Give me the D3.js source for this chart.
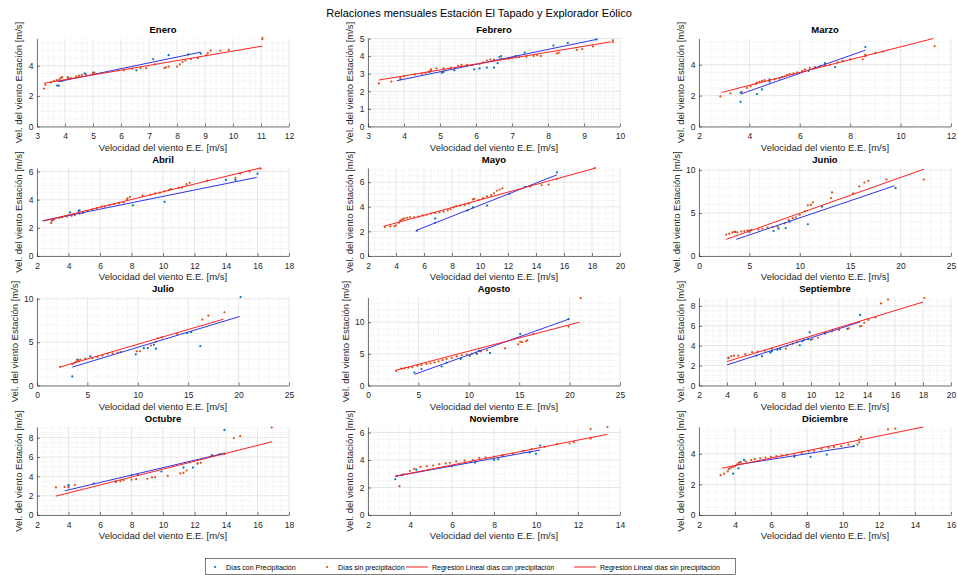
<!DOCTYPE html>
<html><head><meta charset="utf-8">
<script src="https://cdn.jsdelivr.net/npm/d3@7"></script>
<style>body{margin:0;background:#fff}svg{display:block;font-family:"Liberation Sans",Arial,Helvetica,sans-serif}</style>
</head><body><svg id="c" width="958" height="575"></svg>
<script>
const chartTitle = "Relaciones mensuales Estación El Tapado y Explorador Eólico";
const months = ["Enero","Febrero","Marzo","Abril","Mayo","Junio","Julio","Agosto","Septiembre","Octubre","Noviembre","Diciembre"];
const xLabel = "Velocidad del viento E.E. [m/s]";
const yLabel = "Vel. del viento Estación [m/s]";
const legendLabels = ["Días con Precipitación","Días sin precipitación","Regresión Lineal días con precipitación","Regresión Lineal días sin precipitación"];

const xTicks = [
  [3,4,5,6,7,8,9,10,11,12],[3,4,5,6,7,8,9,10],[2,4,6,8,10,12],
  [2,4,6,8,10,12,14,16,18],[2,4,6,8,10,12,14,16,18,20],[0,5,10,15,20,25],
  [0,5,10,15,20,25],[0,5,10,15,20,25],[2,4,6,8,10,12,14,16,18,20],
  [2,4,6,8,10,12,14,16,18],[2,4,6,8,10,12,14],[2,4,6,8,10,12,14,16]
];
const yTicks = [
  [0,2,4],[0,1,2,3,4,5],[0,2,4],[0,2,4,6],[0,2,4,6],[0,5,10],
  [0,5,10],[0,5,10],[0,2,4,6,8],[0,2,4,6,8],[0,2,4,6],[0,2,4]
];
const yMax = [5.8,5,5.7,6.25,7.15,10.25,10.15,13.9,8.85,9.1,6.4,5.75];

// Días con precipitación (blue points)
const conPrecip = [
  [[3.72,2.7],[3.78,2.7],[3.9,3.0],[4.1,3.2],[4.7,3.5],[5.0,3.55],[6.55,3.7],[7.15,4.45],[7.7,4.7],[8.4,4.75],[8.85,4.8]],
  [[3.9,2.7],[4.7,3.1],[5.05,3.05],[5.1,3.1],[5.4,3.2],[5.95,3.25],[6.1,3.3],[6.3,3.35],[6.5,3.35],[6.6,3.6],[6.65,3.95],[6.7,4.0],[7.1,4.0],[7.35,4.2],[8.15,4.6],[8.55,4.75],[9.35,4.95]],
  [[3.65,1.6],[3.65,2.2],[4.3,2.1],[4.5,2.4],[4.8,2.9],[4.8,3.05],[5.3,3.2],[6.35,3.6],[7.0,4.1],[7.4,3.85],[8.6,5.15]],
  [[3.0,2.55],[4.1,3.1],[4.65,3.2],[4.7,3.25],[8.1,3.6],[10.1,3.85],[14.0,5.4],[14.6,5.4],[16.0,5.85]],
  [[5.5,2.05],[6.8,3.05],[6.8,2.7],[9.1,3.7],[9.5,3.95],[10.5,4.1],[12.1,5.05],[13.2,5.6],[15.5,6.8]],
  [[3.6,2.8],[5.0,2.8],[7.4,2.9],[7.9,3.2],[8.6,3.25],[9.0,4.0],[10.8,3.7],[12.2,5.75],[19.5,7.9]],
  [[3.5,1.05],[4.0,3.0],[4.1,2.85],[5.3,3.35],[9.8,3.6],[10.6,4.3],[11.0,4.3],[11.6,4.7],[11.8,4.25],[14.9,6.05],[15.3,6.15],[16.2,4.55],[20.2,10.2]],
  [[4.6,2.05],[5.3,2.6],[7.3,3.0],[7.8,3.6],[9.2,4.2],[10.1,4.7],[10.8,5.0],[11.0,5.5],[12.1,5.15],[15.1,8.15],[19.9,10.5]],
  [[4.1,2.75],[6.1,3.0],[6.5,2.95],[7.1,3.3],[7.2,3.45],[7.6,3.6],[7.8,3.65],[8.3,4.0],[9.2,4.05],[9.4,4.45],[9.8,4.65],[9.9,5.35],[10.0,4.6],[11.0,5.3],[12.6,5.7],[13.5,7.1]],
  [[4.0,3.0],[4.0,3.1],[5.6,3.25],[7.0,3.45],[8.0,4.1],[8.4,4.15],[9.9,4.5],[11.3,4.9],[11.9,4.9],[12.2,5.35],[13.1,6.2],[13.6,6.3],[13.9,6.35],[13.9,8.8]],
  [[3.3,2.6],[3.4,2.85],[3.6,2.9],[4.3,3.3],[6.0,3.55],[6.9,3.85],[7.1,3.8],[8.0,4.0],[8.2,4.05],[8.4,4.3],[9.7,4.55],[10.0,4.45],[10.2,5.05]],
  [[3.9,2.7],[4.2,3.05],[4.3,3.45],[4.5,3.6],[7.3,3.8],[8.2,3.8],[9.1,3.95],[10.6,4.5]]
];

// Días sin precipitación (orange points)
const sinPrecip = [
  [[3.25,2.5],[3.3,2.75],[3.5,2.9],[3.6,3.0],[3.7,3.05],[3.8,3.1],[3.85,3.2],[3.9,3.25],[4.1,3.25],[4.2,3.2],[4.4,3.3],[4.5,3.35],[4.6,3.4],[4.75,3.45],[5.0,3.5],[5.05,3.55],[5.9,3.7],[6.1,3.7],[6.4,3.8],[6.7,3.85],[6.9,3.85],[7.2,4.1],[7.55,3.85],[7.6,3.9],[7.7,3.95],[8.0,3.95],[8.1,4.1],[8.2,4.25],[8.3,4.35],[8.5,4.45],[8.75,4.5],[9.05,4.7],[9.1,4.85],[9.2,5.0],[9.55,5.0],[9.85,5.05],[11.05,5.75],[11.05,5.85]],
  [[3.3,2.45],[3.65,2.55],[3.9,2.75],[4.0,2.85],[4.3,2.95],[4.5,3.0],[4.6,3.05],[4.7,3.1],[4.75,3.2],[4.75,3.25],[4.9,3.3],[5.1,3.3],[5.3,3.35],[5.5,3.45],[5.6,3.5],[5.75,3.5],[5.9,3.5],[6.1,3.55],[6.2,3.65],[6.3,3.75],[6.4,3.8],[6.5,3.8],[6.7,3.85],[6.9,3.85],[7.0,3.9],[7.2,3.95],[7.4,3.95],[7.6,4.0],[7.7,4.05],[7.8,4.0],[8.25,4.15],[8.3,4.2],[8.8,4.35],[8.95,4.4],[9.25,4.55],[9.8,4.8],[9.8,4.9]],
  [[2.85,1.95],[3.25,2.15],[3.7,2.25],[3.9,2.5],[4.05,2.6],[4.25,2.75],[4.3,2.85],[4.4,2.9],[4.5,2.95],[4.6,3.0],[4.8,3.0],[5.0,3.05],[5.2,3.1],[5.4,3.25],[5.5,3.35],[5.6,3.4],[5.75,3.45],[5.9,3.5],[6.1,3.6],[6.2,3.7],[6.4,3.8],[6.6,3.85],[6.8,3.9],[7.0,3.95],[7.2,4.0],[7.5,4.15],[7.7,4.25],[8.0,4.35],[8.5,4.35],[8.6,4.55],[8.6,4.65],[9.0,4.75],[9.3,4.85],[11.35,5.2]],
  [[2.9,2.35],[2.95,2.5],[3.1,2.6],[3.4,2.7],[3.6,2.75],[3.9,2.8],[4.2,2.85],[4.4,2.9],[4.7,3.0],[4.9,3.05],[5.2,3.2],[5.5,3.3],[5.8,3.4],[6.1,3.5],[6.3,3.5],[6.6,3.6],[6.9,3.7],[7.2,3.75],[7.5,3.8],[7.7,4.0],[7.75,4.1],[7.9,4.2],[8.7,4.3],[9.2,4.35],[9.5,4.45],[9.8,4.5],[10.1,4.6],[10.4,4.7],[10.5,4.75],[11.0,4.85],[11.2,4.85],[11.5,5.1],[11.7,5.2],[12.8,5.35],[14.6,5.55],[14.9,5.85],[15.5,6.0],[16.2,6.2]],
  [[3.2,2.35],[3.6,2.4],[3.9,2.4],[4.0,2.5],[4.2,2.7],[4.3,2.85],[4.4,2.95],[4.5,3.0],[4.6,3.05],[4.8,3.1],[5.0,3.15],[5.3,3.15],[5.6,3.2],[5.9,3.3],[6.2,3.35],[6.5,3.45],[6.8,3.5],[7.1,3.55],[7.4,3.6],[7.7,3.7],[7.9,3.8],[8.1,3.95],[8.3,4.05],[8.6,4.1],[8.9,4.15],[9.2,4.25],[9.5,4.6],[9.6,4.65],[9.9,4.55],[10.2,4.7],[10.5,4.85],[10.8,4.95],[11.0,5.1],[11.2,5.3],[11.4,5.4],[11.6,5.5],[13.6,5.65],[14.4,5.75],[14.9,5.8],[15.5,6.25],[18.2,7.15]],
  [[2.7,2.5],[3.0,2.6],[3.3,2.75],[3.5,2.8],[3.8,2.75],[4.2,2.85],[4.5,2.9],[4.8,2.95],[5.0,3.0],[5.2,3.05],[5.9,3.1],[6.3,3.2],[6.8,3.3],[7.3,3.35],[7.8,3.4],[8.5,3.8],[8.9,4.2],[9.3,4.4],[9.6,4.5],[10.0,4.8],[10.5,5.2],[10.8,5.9],[11.1,5.95],[11.3,6.25],[13.1,6.75],[13.2,7.4],[15.3,7.3],[15.9,8.1],[16.4,8.55],[16.8,8.75],[18.6,8.9],[22.3,8.9]],
  [[2.3,2.15],[3.5,2.45],[3.7,2.6],[3.9,2.75],[4.1,2.9],[4.3,3.0],[4.8,3.1],[5.5,3.15],[6.0,3.3],[6.5,3.45],[7.0,3.65],[7.5,3.7],[8.0,3.8],[8.3,3.85],[9.9,3.95],[10.2,3.95],[11.3,4.6],[11.8,5.05],[12.0,5.45],[12.4,5.55],[13.9,5.95],[16.4,7.6],[17.0,8.05],[18.6,8.45]],
  [[2.8,2.3],[3.3,2.65],[3.6,2.7],[4.0,2.8],[4.4,2.9],[4.9,3.1],[5.3,3.25],[5.8,3.4],[6.2,3.5],[6.6,3.65],[7.0,3.8],[7.4,4.0],[7.8,4.2],[8.3,4.35],[8.8,4.6],[9.3,4.8],[9.8,4.9],[10.3,5.0],[10.7,5.2],[11.2,5.4],[11.8,5.55],[13.6,5.85],[14.9,6.5],[15.1,6.9],[15.3,6.85],[15.7,7.0],[15.8,7.15],[16.4,8.1],[19.9,9.3],[21.1,13.8]],
  [[4.1,2.8],[4.3,2.95],[4.5,3.0],[4.8,3.0],[5.3,3.15],[5.8,3.35],[6.2,3.4],[6.7,3.5],[7.2,3.7],[8.2,3.7],[8.7,4.2],[9.0,4.35],[9.5,4.6],[10.1,4.65],[10.5,4.8],[11.0,5.2],[11.5,5.45],[12.0,5.6],[12.7,5.75],[13.5,5.95],[13.6,6.0],[13.8,6.3],[14.1,6.6],[14.6,6.85],[15.0,8.25],[15.5,8.65],[18.1,8.8]],
  [[3.2,2.85],[3.75,2.9],[4.0,2.85],[4.4,3.1],[7.0,3.4],[7.3,3.5],[7.5,3.6],[8.0,3.65],[8.3,3.7],[9.0,3.75],[9.3,3.9],[9.5,3.9],[10.3,4.05],[11.1,4.3],[11.3,4.35],[11.5,4.6],[12.2,5.3],[12.4,5.4],[13.1,6.15],[13.9,6.3],[14.5,7.95],[14.9,8.15],[16.9,9.05]],
  [[3.5,2.1],[3.7,2.95],[4.0,3.2],[4.2,3.35],[4.5,3.5],[4.8,3.55],[5.1,3.6],[5.4,3.7],[5.7,3.75],[5.9,3.8],[6.2,3.9],[6.6,3.95],[7.0,4.0],[7.3,4.15],[7.6,4.2],[8.0,4.25],[8.4,4.35],[8.9,4.45],[9.4,4.65],[9.8,4.8],[10.4,4.95],[11.0,5.15],[11.6,5.2],[11.8,5.3],[12.6,5.55],[12.6,6.25],[13.4,6.4]],
  [[3.2,2.6],[3.4,2.7],[3.6,2.85],[3.65,3.0],[3.7,3.05],[3.8,3.1],[3.9,3.15],[4.0,3.2],[4.1,3.3],[4.2,3.4],[4.3,3.45],[4.6,3.5],[4.9,3.6],[5.1,3.65],[5.4,3.7],[5.7,3.75],[6.0,3.8],[6.3,3.85],[6.6,3.9],[6.9,3.95],[7.3,4.0],[7.7,4.05],[8.1,4.15],[8.4,4.2],[8.8,4.3],[9.2,4.4],[9.5,4.45],[9.9,4.5],[10.3,4.6],[10.8,4.6],[10.9,4.75],[10.9,4.95],[11.0,5.1],[12.5,5.6],[12.9,5.65]]
];

// Regression line end points [x0, y0, x1, y1]
const regCon = [
  [3.75,2.95,8.85,4.9],[3.8,2.6,9.35,4.95],[3.65,2.1,8.6,4.94],[2.35,2.5,15.95,5.58],
  [5.4,2.06,15.5,6.6],[3.7,1.94,19.4,8.18],[3.5,2.12,20.1,7.96],[4.62,1.77,19.9,10.47],
  [4.0,2.07,13.5,6.39],[3.76,2.5,13.85,6.37],[3.3,2.82,10.2,4.73],[4.1,3.28,10.57,4.48]
];
const regSin = [
  [3.25,2.85,11.05,5.3],[3.3,2.64,9.75,4.81],[2.9,2.21,11.3,5.7],[2.4,2.48,16.2,6.26],
  [3.12,2.41,18.24,7.14],[2.7,1.94,22.33,10.12],[2.25,2.12,18.5,7.65],[2.74,2.4,20.97,10.0],
  [4.0,2.41,18.0,8.39],[3.19,1.95,16.93,7.58],[3.3,2.82,13.4,5.87],[3.27,3.06,14.45,5.75]
];

const W = 958, H = 575;
const colLeft = [37, 368, 699], plotW = 252;
const rowTop = [38.5, 168, 297.5, 427], plotH = 88;
const C_BLUE = "#0072BD", C_ORANGE = "#D95319", C_BLINE = "#3333e6", C_RLINE = "#ff2020", C_AX = "#262626";

const svg = d3.select("#c");
svg.append("rect").attr("width", W).attr("height", H).attr("fill", "#fff");
svg.append("text").attr("x", 479).attr("y", 17).attr("text-anchor", "middle")
  .attr("font-size", 11).attr("fill", "#000").text(chartTitle);

function minorStep(s){ return s === 2 ? 0.5 : s / 5; }

months.forEach((m, i) => {
  const c = i % 3, r = Math.floor(i / 3);
  const g = svg.append("g").attr("transform", `translate(${colLeft[c]},${rowTop[r]})`);
  const xt = xTicks[i], yt = yTicks[i];
  const x = d3.scaleLinear().domain([xt[0], xt[xt.length - 1]]).range([0, plotW]);
  const y = d3.scaleLinear().domain([0, yMax[i]]).range([plotH, 0]);

  const xs = minorStep(xt[1] - xt[0]), ys = minorStep(yt[1] - yt[0]);
  const xMin = d3.range(xt[0], xt[xt.length - 1] + 1e-9, xs).filter(v => !xt.some(t => Math.abs(t - v) < 1e-6));
  const yMin = d3.range(0, yMax[i] + 1e-9, ys).filter(v => !yt.some(t => Math.abs(t - v) < 1e-6));

  const grid = g.append("g");
  grid.selectAll(".xm").data(xMin).join("line")
    .attr("x1", d => x(d)).attr("x2", d => x(d)).attr("y1", 0).attr("y2", plotH)
    .attr("stroke", "#d4d4d4").attr("stroke-width", 0.5).attr("stroke-dasharray", "1,1.5");
  grid.selectAll(".ym").data(yMin).join("line")
    .attr("y1", d => y(d)).attr("y2", d => y(d)).attr("x1", 0).attr("x2", plotW)
    .attr("stroke", "#d4d4d4").attr("stroke-width", 0.5).attr("stroke-dasharray", "1,1.5");
  grid.selectAll(".xM").data(xt).join("line")
    .attr("x1", d => x(d)).attr("x2", d => x(d)).attr("y1", 0).attr("y2", plotH)
    .attr("stroke", "#dcdcdc").attr("stroke-width", 0.7);
  grid.selectAll(".yM").data(yt).join("line")
    .attr("y1", d => y(d)).attr("y2", d => y(d)).attr("x1", 0).attr("x2", plotW)
    .attr("stroke", "#dcdcdc").attr("stroke-width", 0.7);

  // points
  g.append("g").selectAll("circle").data(conPrecip[i]).join("circle")
    .attr("cx", d => x(d[0])).attr("cy", d => y(d[1])).attr("r", 1.1).attr("fill", C_BLUE);
  g.append("g").selectAll("circle").data(sinPrecip[i]).join("circle")
    .attr("cx", d => x(d[0])).attr("cy", d => y(d[1])).attr("r", 1.1).attr("fill", C_ORANGE);

  // regression lines
  const rc = regCon[i], rs = regSin[i];
  g.append("line").attr("x1", x(rc[0])).attr("y1", y(rc[1])).attr("x2", x(rc[2])).attr("y2", y(rc[3]))
    .attr("stroke", C_BLINE).attr("stroke-width", 1);
  g.append("line").attr("x1", x(rs[0])).attr("y1", y(rs[1])).attr("x2", x(rs[2])).attr("y2", y(rs[3]))
    .attr("stroke", C_RLINE).attr("stroke-width", 1);

  // axes
  const ax = g.append("g").attr("transform", `translate(0,${plotH})`)
    .call(d3.axisBottom(x).tickValues(xt).tickSizeInner(-3).tickSizeOuter(0).tickPadding(6.5).tickFormat(d3.format("d")));
  const ay = g.append("g")
    .call(d3.axisLeft(y).tickValues(yt).tickSizeInner(-3).tickSizeOuter(0).tickPadding(3.5).tickFormat(d3.format("d")));
  [ax, ay].forEach(a => {
    a.select(".domain").attr("stroke", C_AX).attr("stroke-width", 0.6);
    a.selectAll(".tick line").attr("stroke", C_AX).attr("stroke-width", 0.6);
    a.selectAll(".tick text").attr("fill", C_AX).attr("font-size", 8.5)
      .attr("font-family", '"Liberation Sans",Arial,sans-serif');
  });
  let maxW = 0;
  ay.selectAll(".tick text").each(function(){ maxW = Math.max(maxW, this.getComputedTextLength()); });

  g.append("text").attr("x", plotW / 2).attr("y", plotH + 24).attr("text-anchor", "middle")
    .attr("font-size", 9.5).attr("fill", C_AX).text(xLabel);
  g.append("text").attr("transform", `translate(${-(maxW + 10)},${plotH / 2}) rotate(-90)`)
    .attr("text-anchor", "middle").attr("font-size", 9.5).attr("fill", C_AX).text(yLabel);
  g.append("text").attr("x", plotW / 2).attr("y", -5.5).attr("text-anchor", "middle")
    .attr("font-size", 9.5).attr("font-weight", "bold").attr("fill", "#000").text(m);
});

// legend
const lg = svg.append("g");
lg.append("rect").attr("x", 205.5).attr("y", 558.5).attr("width", 530).attr("height", 16)
  .attr("fill", "#fff").attr("stroke", C_AX).attr("stroke-width", 0.6);
const legendX = [215, 327, 406, 574];
const legendKind = ["dot", "dot", "line", "line"];
const legendColor = [C_BLUE, C_ORANGE, C_RLINE, C_RLINE];
legendLabels.forEach((t, k) => {
  const x0 = legendX[k];
  let tx;
  if (legendKind[k] === "dot") {
    lg.append("circle").attr("cx", x0).attr("cy", 567).attr("r", 1.1).attr("fill", legendColor[k]);
    tx = x0 + 11;
  } else {
    lg.append("line").attr("x1", x0).attr("x2", x0 + 22).attr("y1", 567).attr("y2", 567)
      .attr("stroke", legendColor[k]).attr("stroke-width", 1);
    tx = x0 + 26;
  }
  lg.append("text").attr("x", tx).attr("y", 569.5).attr("font-size", 7).attr("fill", "#000").text(t);
});
</script></body></html>
